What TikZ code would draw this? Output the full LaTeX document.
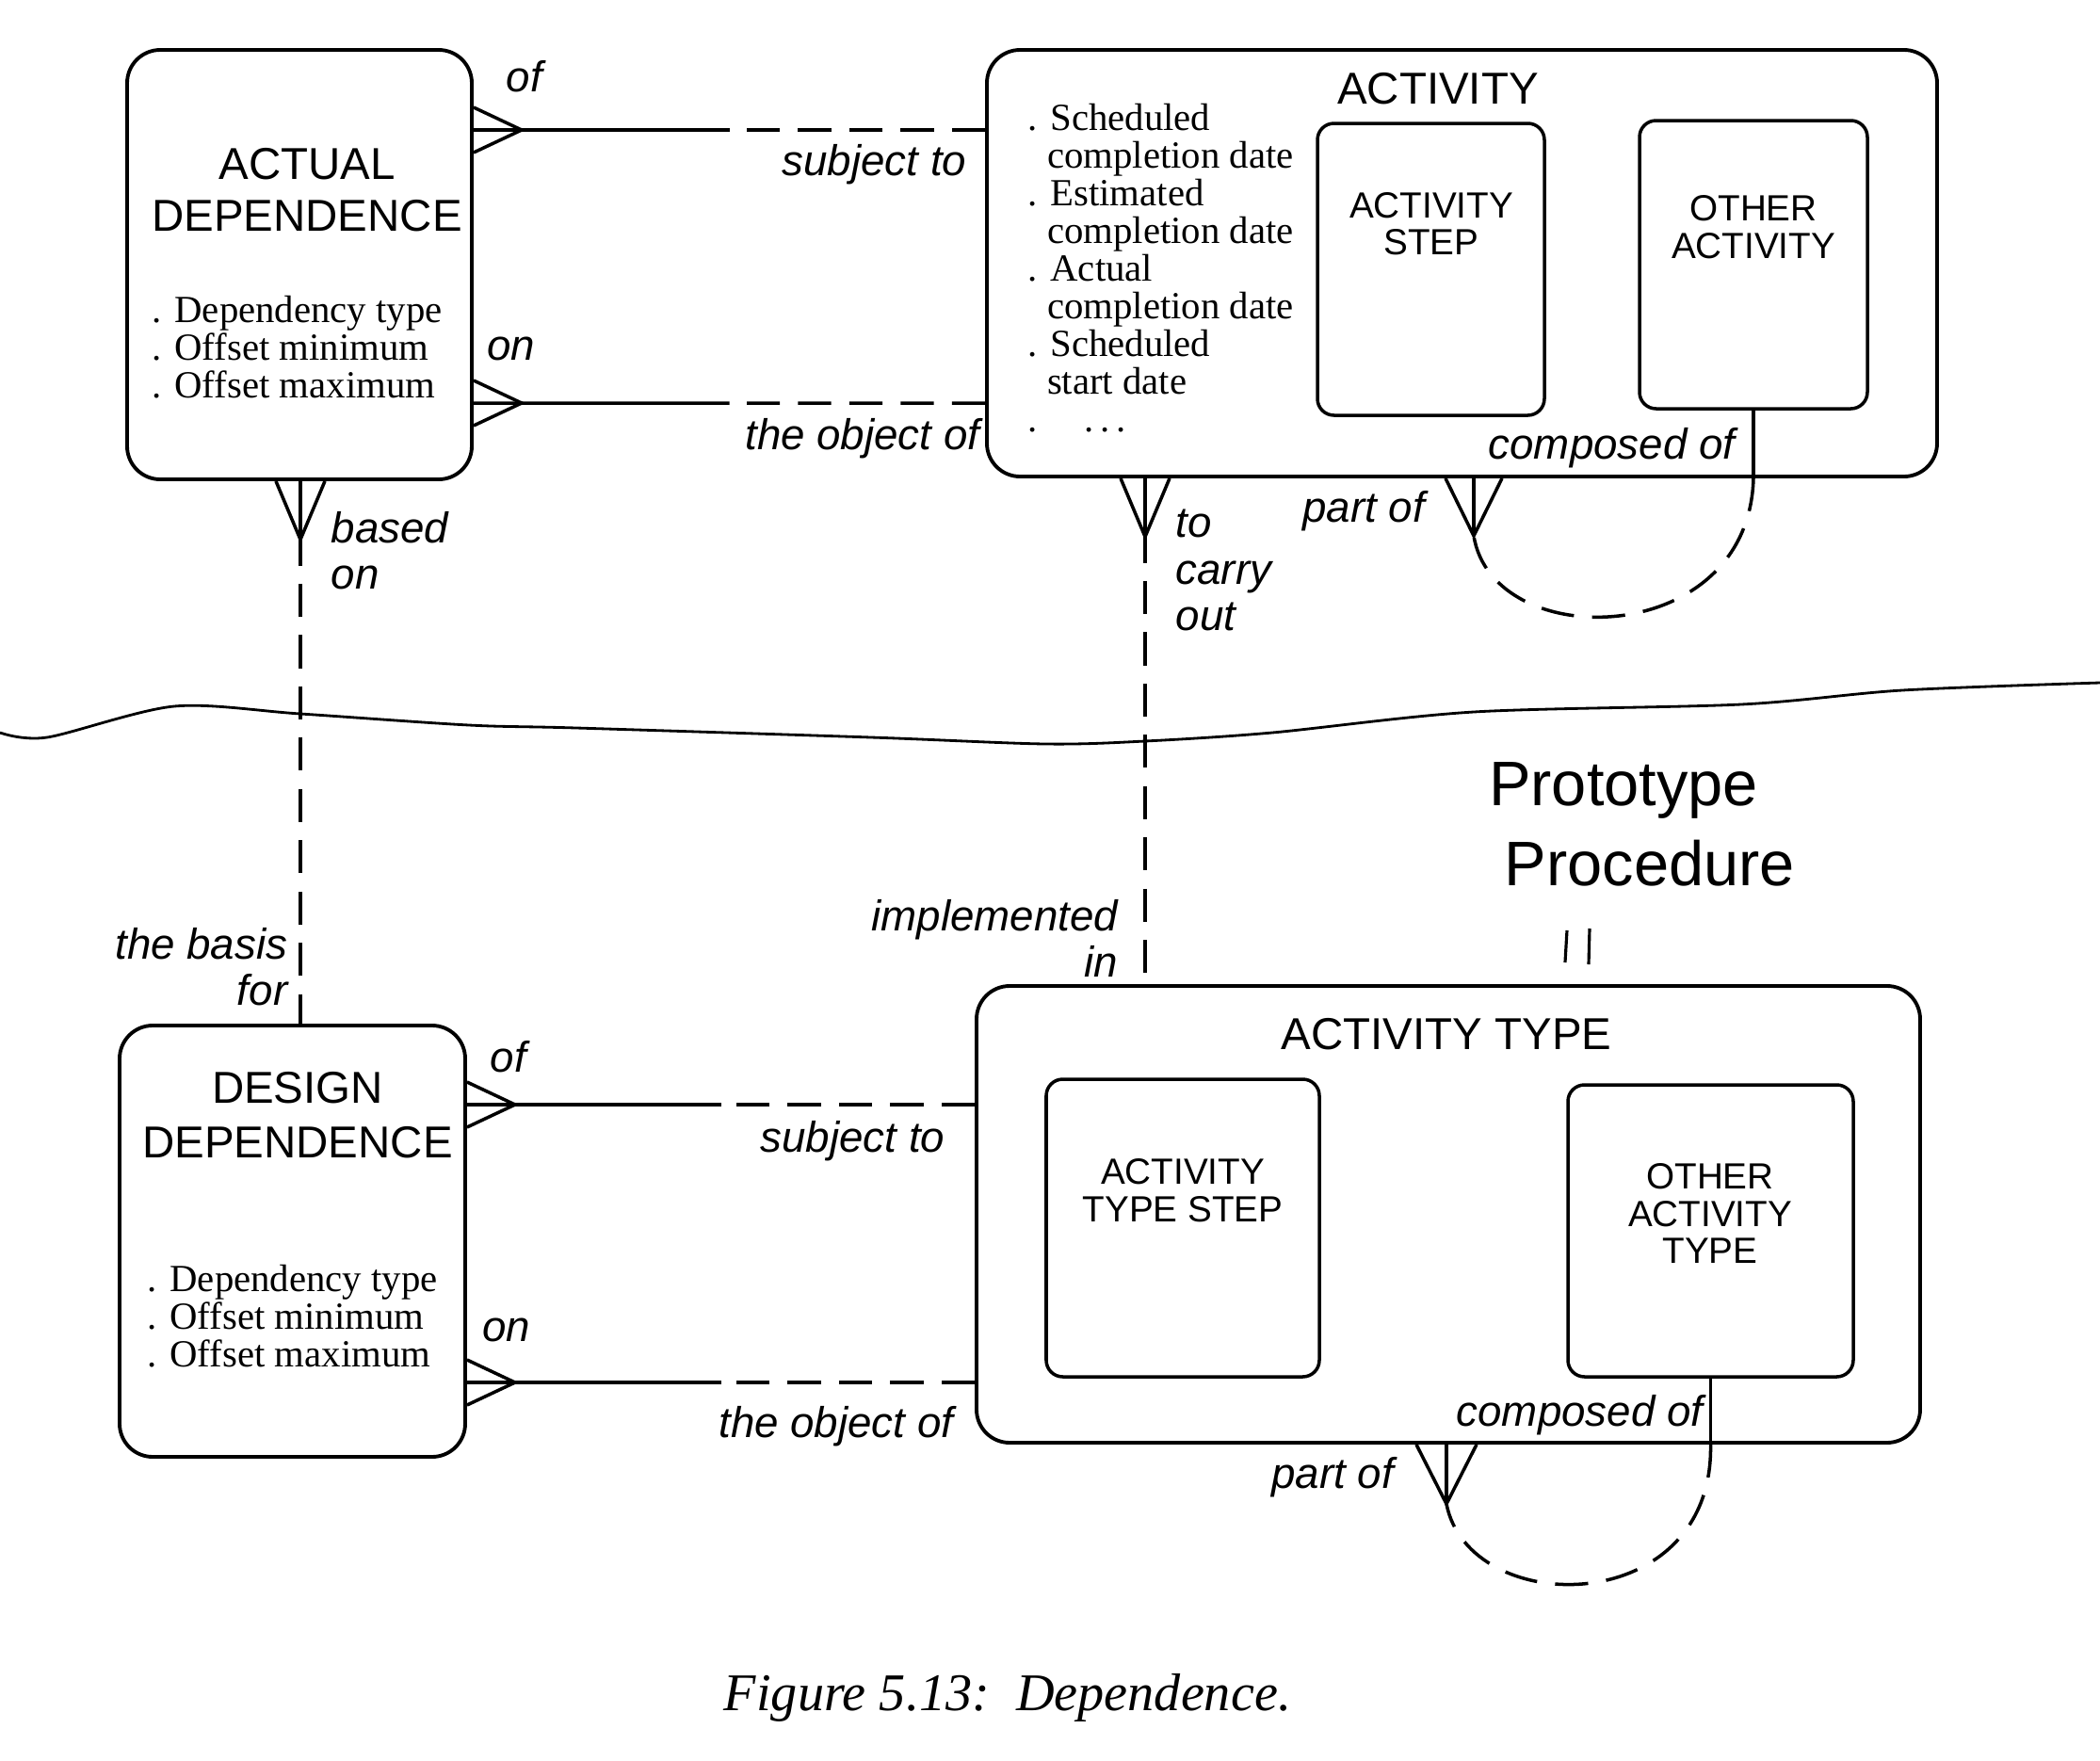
\documentclass[tikz,border=0pt]{standalone}
\usepackage{fontspec}
\setmainfont{Liberation Serif}
\setsansfont{Liberation Sans}
\usetikzlibrary{calc}

\begin{document}
\begin{tikzpicture}[
  entity/.style={draw, line width=1.1pt, rounded corners=10pt, inner sep=0pt},
  subtype/.style={draw, line width=1pt, rounded corners=5pt, inner sep=0pt},
  title/.style={font=\sffamily\fontsize{13.5}{16}\selectfont, align=center},
  subtitle/.style={font=\sffamily\fontsize{11}{11.2}\selectfont, align=center},
  attr/.style={font=\rmfamily\fontsize{11.6}{11.4}\selectfont, align=left, anchor=west, inner sep=0pt},
  role/.style={font=\sffamily\itshape\fontsize{13}{14}\selectfont, inner sep=0pt},
  hand/.style={font=\sffamily\fontsize{19}{22}\selectfont},
  rel/.style={line width=1pt},
  optional/.style={rel, dash pattern=on 10pt off 5.5pt}
]
\useasboundingbox (0,0) rectangle (22.30,-18.70);

% Entity boxes
\node[entity, minimum width=3.66cm, minimum height=4.56cm] (actdep) at (3.18,-2.81) {};
\node[entity, minimum width=10.09cm, minimum height=4.53cm] (activity) at (15.525,-2.795) {};
\node[subtype, minimum width=2.41cm, minimum height=3.10cm] (actstep) at (15.195,-2.86) {};
\node[subtype, minimum width=2.42cm, minimum height=3.06cm] (othact) at (18.62,-2.81) {};
\node[entity, minimum width=3.67cm, minimum height=4.58cm] (desdep) at (3.105,-13.18) {};
\node[entity, minimum width=10.02cm, minimum height=4.85cm] (acttype) at (15.38,-12.895) {};
\node[subtype, minimum width=2.90cm, minimum height=3.16cm] (atstep) at (12.56,-13.04) {};
\node[subtype, minimum width=3.03cm, minimum height=3.10cm] (othtype) at (18.165,-13.07) {};

% Box texts
\node[title, font=\sffamily\fontsize{13.5}{15.6}\selectfont] (adname) at (3.26,-2.015) {ACTUAL\\DEPENDENCE};
\node[attr] (adattr) at (1.61,-3.69) {. Dependency type\\. Offset minimum\\. Offset maximum};
\node[title] (actname) at (15.27,-0.94) {ACTIVITY};
\node[attr] (actattr) at (10.91,-2.845) {. Scheduled\\\phantom{.\ }completion date\\. Estimated\\\phantom{.\ }completion date\\. Actual\\\phantom{.\ }completion date\\. Scheduled\\\phantom{.\ }start date\\.\hspace{0.5cm}.\,.\,.};
\node[subtitle] (stepname) at (15.20,-2.375) {ACTIVITY\\STEP};
\node[subtitle] (othname) at (18.62,-2.41) {OTHER\\ACTIVITY};
\node[title, font=\sffamily\fontsize{13.5}{16.4}\selectfont] (ddname) at (3.16,-11.84) {DESIGN\\DEPENDENCE};
\node[attr] (ddattr) at (1.56,-13.98) {. Dependency type\\. Offset minimum\\. Offset maximum};
\node[title] (atname) at (15.36,-10.98) {ACTIVITY TYPE};
\node[subtitle] (atstepname) at (12.56,-12.64) {ACTIVITY\\TYPE STEP};
\node[subtitle] (othtypename) at (18.16,-12.885) {OTHER\\ACTIVITY\\TYPE};

% Horizontal relationships, crow's foot on the dependence side
\foreach \src/\dst/\y in {actdep/activity/-1.38, actdep/activity/-4.28, desdep/acttype/-11.73, desdep/acttype/-14.68} {
  \coordinate (from) at (\src.east |- 0,\y);
  \coordinate (to) at (\dst.west |- 0,\y);
  \draw[rel] (from) -- ($(from)!0.5!(to)$);
  \draw[optional] (to) -- ($(from)!0.5!(to)$);
  \draw[rel] ($(from)+(0,0.24)$) -- ++(0.51,-0.24) -- ++(-0.51,-0.24);
}

% Vertical relationships
\foreach \src/\dst/\x in {actdep/desdep/3.19, activity/acttype/12.16} {
  \coordinate (from) at (\src.south -| \x,0);
  \coordinate (to) at (\dst.north -| \x,0);
  \draw[optional] (from) -- (to);
  \draw[rel] ($(from)+(-0.26,0)$) -- ++(0.26,-0.62) -- ++(0.26,0.62);
  \draw[rel] (from) -- ++(0,-0.62);
}

% Recursive composition of activity
\coordinate (actpart) at (15.65,-5.69);
\draw[rel] (othact.south) -- (othact.south |- activity.south) coordinate (actcomp);
\draw[optional] (actcomp) .. controls (18.57,-6.9) and (15.85,-6.95) .. (actpart);
\draw[rel] ($(actpart |- activity.south)+(-0.3,0)$) -- (actpart) -- ($(actpart |- activity.south)+(0.3,0)$);
\draw[rel] (actpart) -- (actpart |- activity.south);

% Recursive composition of activity type
\coordinate (typepart) at (15.36,-15.97);
\draw[rel] (othtype.south) -- (othtype.south |- acttype.south) coordinate (typecomp);
\draw[optional] (typecomp) .. controls (18.2,-17.2) and (15.6,-17.2) .. (typepart);
\draw[rel] ($(typepart |- acttype.south)+(-0.32,0)$) -- (typepart) -- ($(typepart |- acttype.south)+(0.32,0)$);
\draw[rel] (typepart) -- (typepart |- acttype.south);

% Role labels
\node[role] (l1) at (5.57,-0.81) {of};
\node[role, anchor=east] (l2) at (10.27,-1.75) {subject to};
\node[role] (l3) at (5.43,-3.70) {on};
\node[role, anchor=east] (l4) at (10.41,-4.66) {the object of};
\node[role, anchor=west, align=left] (l5) at (3.51,-5.845) {based\\on};
\node[role, anchor=west, align=left] (l6) at (12.48,-6.055) {to\\carry\\out};
\node[role] (l7) at (14.48,-5.43) {part of};
\node[role, anchor=east] (l8) at (18.43,-4.76) {composed of};
\node[role, anchor=east, align=right] (l9) at (3.06,-10.265) {the basis\\for};
\node[role, anchor=east, align=right] (l10) at (11.88,-9.965) {implemented\\in};
\node[role] (l11) at (5.40,-11.22) {of};
\node[role, anchor=east] (l12) at (10.04,-12.12) {subject to};
\node[role] (l13) at (5.38,-14.12) {on};
\node[role, anchor=east] (l14) at (10.13,-15.15) {the object of};
\node[role] (l15) at (14.15,-15.69) {part of};
\node[role, anchor=east] (l16) at (18.09,-15.03) {composed of};

% Torn edge
\draw[line width=0.8pt] plot[smooth] coordinates {(0,-7.78) (0.50,-7.83) (1.85,-7.50) (3.19,-7.58) (4.98,-7.70) (6.12,-7.73) (9.25,-7.83) (11.10,-7.90) (12.16,-7.87) (13.51,-7.78) (15.65,-7.56) (18.49,-7.48) (20.20,-7.33) (22.30,-7.25)};

% Handwritten note
\node[hand] (proto) at (17.24,-8.39) {Prototype};
\node[hand] (proc) at (17.52,-9.17) {Procedure};
\draw[line width=0.9pt] (16.64,-9.88) -- (16.62,-10.22);
\draw[line width=0.9pt] (16.88,-9.86) -- (16.87,-10.24);

% Caption
\node[font=\rmfamily\itshape\fontsize{16}{18}\selectfont] (caption) at (10.70,-18.03) {Figure 5.13:\ \ Dependence.};
\end{tikzpicture}
\end{document}
